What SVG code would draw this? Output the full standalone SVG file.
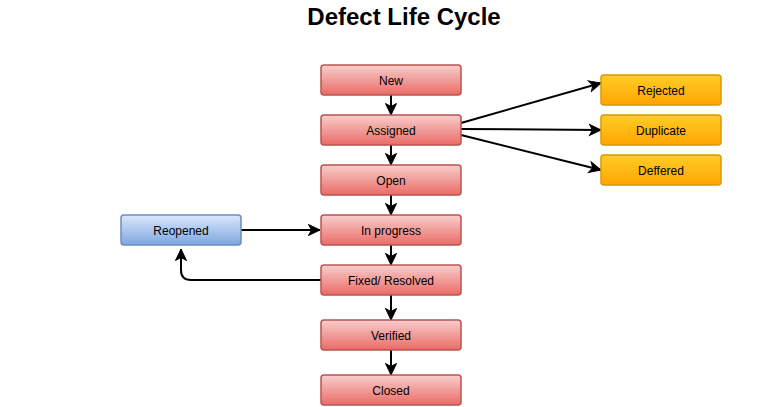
<svg xmlns="http://www.w3.org/2000/svg" width="773" height="407" viewBox="0 0 773 407">
<defs>
<linearGradient id="gr" x1="0" y1="0" x2="0" y2="1"><stop offset="0" stop-color="#f8cecc"/><stop offset="1" stop-color="#ea6b66"/></linearGradient>
<linearGradient id="go" x1="0" y1="0" x2="0" y2="1"><stop offset="0" stop-color="#ffcd28"/><stop offset="1" stop-color="#ffa500"/></linearGradient>
<linearGradient id="gb" x1="0" y1="0" x2="0" y2="1"><stop offset="0" stop-color="#dae8fc"/><stop offset="1" stop-color="#7ea6e0"/></linearGradient>
<marker id="ar" markerUnits="userSpaceOnUse" markerWidth="14" markerHeight="14" viewBox="0 0 14 14" refX="12.5" refY="7" orient="auto">
<path d="M1,1.5 L12.5,7 L1,12.5 L4,7 Z" fill="#000" stroke="#000" stroke-width="1"/>
</marker>
</defs>
<style>
.r{fill:url(#gr);stroke:#b85450;stroke-width:1.5}
.o{fill:url(#go);stroke:#d79b00;stroke-width:1.5}
.b{fill:url(#gb);stroke:#6c8ebf;stroke-width:1.5}
text{font-family:"Liberation Sans",Arial,sans-serif;font-size:12px;fill:#000;text-anchor:middle}
.t{font-size:24px;font-weight:bold}
.c{fill:none;stroke:#000;stroke-width:2;marker-end:url(#ar)}
</style>
<rect width="773" height="407" fill="#fff"/>
<text class="t" x="404" y="25">Defect Life Cycle</text>
<g id="connectors">
<path class="c" d="M391,95 V115"/>
<path class="c" d="M391,145 V165"/>
<path class="c" d="M391,195 V215"/>
<path class="c" d="M391,245 V265"/>
<path class="c" d="M391,295 V320"/>
<path class="c" d="M391,350 V375"/>
<path class="c" d="M461,123 L601,83"/>
<path class="c" d="M461,129 L601,130"/>
<path class="c" d="M461,135 L601,170"/>
<path class="c" d="M241,230 H320"/>
<path class="c" d="M321,280 H191 Q181,280 181,270 V249"/>
</g>
<g id="new"><rect class="r" x="321" y="65" width="140" height="30" rx="3"/><text x="391" y="85">New</text></g>
<g id="assigned"><rect class="r" x="321" y="115" width="140" height="30" rx="3"/><text x="391" y="135">Assigned</text></g>
<g id="open"><rect class="r" x="321" y="165" width="140" height="30" rx="3"/><text x="391" y="185">Open</text></g>
<g id="inprogress"><rect class="r" x="321" y="215" width="140" height="30" rx="3"/><text x="391" y="235">In progress</text></g>
<g id="fixed"><rect class="r" x="321" y="265" width="140" height="30" rx="3"/><text x="391" y="285">Fixed/ Resolved</text></g>
<g id="verified"><rect class="r" x="321" y="320" width="140" height="30" rx="3"/><text x="391" y="340">Verified</text></g>
<g id="closed"><rect class="r" x="321" y="375" width="140" height="30" rx="3"/><text x="391" y="395">Closed</text></g>
<g id="rejected"><rect class="o" x="601" y="75" width="120" height="30" rx="3"/><text x="661" y="95">Rejected</text></g>
<g id="duplicate"><rect class="o" x="601" y="115" width="120" height="30" rx="3"/><text x="661" y="135">Duplicate</text></g>
<g id="deffered"><rect class="o" x="601" y="155" width="120" height="30" rx="3"/><text x="661" y="175">Deffered</text></g>
<g id="reopened"><rect class="b" x="121" y="215" width="120" height="30" rx="3"/><text x="181" y="235">Reopened</text></g>
</svg>
